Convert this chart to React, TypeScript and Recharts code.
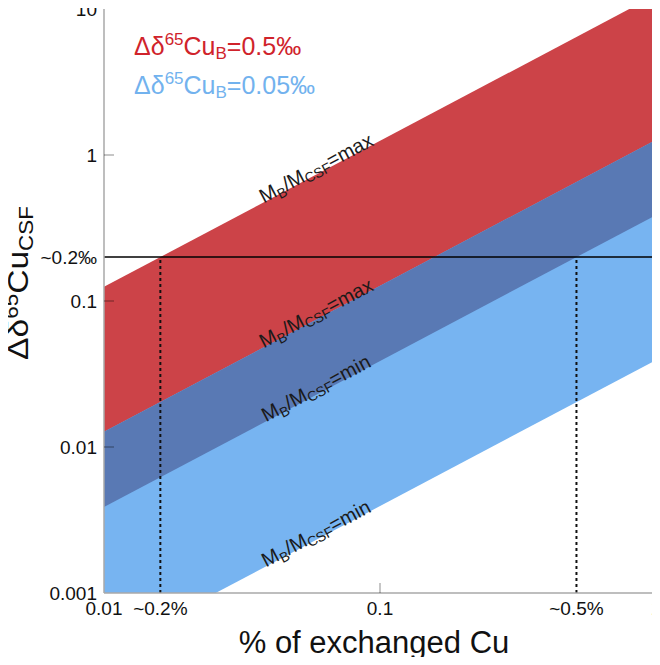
import React from 'react';
import { ComposedChart, Area, XAxis, YAxis, ReferenceLine, ReferenceDot } from 'recharts';

// exchanged Cu fraction at the plot edges
const xValues = [0.01, 1];
// band boundaries (Δδ65Cu_CSF) read at x = 0.01 and x = 1
const redUpper = [0.125, 12.5]; // Δδ65CuB=0.5‰, MB/MCSF=max
const redLower = [0.00388, 0.388]; // Δδ65CuB=0.5‰, MB/MCSF=min
const blueUpper = [0.0127, 1.27]; // Δδ65CuB=0.05‰, MB/MCSF=max
const blueLower = [0.000394, 0.0394]; // Δδ65CuB=0.05‰, MB/MCSF=min

const xTicks = [0.01, 0.016, 0.1, 0.515, 1];
const xTickLabels = ['0.01', '~0.2%', '0.1', '~0.5%', '1'];
const yTicks = [0.001, 0.01, 0.1, 0.2, 1, 10];
const yTickLabels = ['0.001', '0.01', '0.1', '~0.2‰', '1', '10'];
const xMajor = [0.1];
const yMajor = [0.01, 0.1, 1];

const threshold = 0.2;
const crossX = [0.016, 0.515];

const bandLabelX = [0.06, 0.06, 0.06, 0.06];
const bandLabelY = [0.75, 0.0762, 0.0233, 0.00236];
const bandLabelText = ['max', 'max', 'min', 'min'];

const table = xValues.map((x, i) => ({
  x,
  red: [redLower[i], redUpper[i]],
  light: [blueLower[i], blueUpper[i]],
  dark: [redLower[i], blueUpper[i]],
}));

const FONT = '"Liberation Sans", Arial, Helvetica, sans-serif';
const ANGLE = -Math.atan(146 / 276) * 180 / Math.PI;
const TICK_STROKE = 'rgba(0,0,0,0.3)';

const XTick = (props: any) => {
  const { x, y, payload } = props;
  const i = xTicks.indexOf(payload.value);
  return (
    <g>
      {xMajor.includes(payload.value) && (
        <line x1={x} x2={x} y1={y} y2={y - 10} stroke={TICK_STROKE} strokeWidth={1.5} />
      )}
      <text x={x} y={y + 22} textAnchor="middle" fontSize={19} fontFamily={FONT} fill="#111">
        {xTickLabels[i]}
      </text>
    </g>
  );
};

const YTick = (props: any) => {
  const { x, y, payload } = props;
  const i = yTicks.indexOf(payload.value);
  return (
    <g>
      {yMajor.includes(payload.value) && (
        <line x1={x} x2={x + 10} y1={y} y2={y} stroke={TICK_STROKE} strokeWidth={1.5} />
      )}
      <text x={x - 7} y={y} dy="0.36em" textAnchor="end" fontSize={19} fontFamily={FONT} fill="#111">
        {yTickLabels[i]}
      </text>
    </g>
  );
};

const RightTick = (props: any) => {
  const { x, y, payload } = props;
  if (!yMajor.includes(payload.value)) return <g />;
  return <line x1={x} x2={x - 10} y1={y} y2={y} stroke={TICK_STROKE} strokeWidth={1.5} />;
};

const TopTick = (props: any) => {
  const { x, y, payload } = props;
  if (!xMajor.includes(payload.value)) return <g />;
  return <line x1={x} x2={x} y1={y} y2={y + 10} stroke={TICK_STROKE} strokeWidth={1.5} />;
};

const BandLabel = ({ cx, cy, kind }: any) => (
  <text
    x={cx}
    y={cy}
    dy={1}
    textAnchor="middle"
    fontFamily={FONT}
    fontSize={20}
    fill="#1a1a1a"
    transform={`rotate(${ANGLE} ${cx} ${cy})`}
  >
    M<tspan fontSize={14} dy={4}>B</tspan>
    <tspan dy={-4}>/M</tspan>
    <tspan fontSize={14} dy={3}>CSF</tspan>
    <tspan dy={-3}>={kind}</tspan>
  </text>
);

export default function App() {
  return (
    <div style={{ margin: -8, width: 660, height: 665 }}>
      <ComposedChart
        width={660}
        height={665}
        data={table}
        margin={{ top: 9, right: 4, bottom: 0, left: 0 }}
      >
        <Area
          dataKey="red"
          type="linear"
          stroke="none"
          fill="#cc4348"
          fillOpacity={1}
          isAnimationActive={false}
          dot={false}
          activeDot={false}
        />
        <Area
          dataKey="light"
          type="linear"
          stroke="none"
          fill="#77b4f1"
          fillOpacity={1}
          isAnimationActive={false}
          dot={false}
          activeDot={false}
        />
        <Area
          dataKey="dark"
          type="linear"
          stroke="none"
          fill="#5979b4"
          fillOpacity={1}
          isAnimationActive={false}
          dot={false}
          activeDot={false}
        />
        <XAxis
          dataKey="x"
          type="number"
          scale="log"
          domain={[0.01, 1]}
          allowDataOverflow
          ticks={xTicks}
          interval={0}
          tick={<XTick />}
          tickLine={false}
          tickSize={0}
          tickMargin={0}
          height={72}
          axisLine={{ stroke: '#a8a8a8', strokeWidth: 1.5 }}
        />
        <XAxis
          xAxisId="top"
          dataKey="x"
          orientation="top"
          type="number"
          scale="log"
          domain={[0.01, 1]}
          allowDataOverflow
          ticks={xTicks}
          interval={0}
          tick={<TopTick />}
          tickLine={false}
          tickSize={0}
          tickMargin={0}
          height={0}
          axisLine={{ stroke: '#a8a8a8', strokeWidth: 1.5 }}
        />
        <YAxis
          type="number"
          scale="log"
          domain={[0.001, 10]}
          allowDataOverflow
          ticks={yTicks}
          interval={0}
          tick={<YTick />}
          tickLine={false}
          tickSize={0}
          tickMargin={0}
          width={104}
          axisLine={{ stroke: '#a8a8a8', strokeWidth: 1.5 }}
        />
        <YAxis
          yAxisId="right"
          orientation="right"
          type="number"
          scale="log"
          domain={[0.001, 10]}
          allowDataOverflow
          ticks={yTicks}
          interval={0}
          tick={<RightTick />}
          tickLine={false}
          tickSize={0}
          tickMargin={0}
          width={0}
          axisLine={{ stroke: '#a8a8a8', strokeWidth: 1.5 }}
        />
        <ReferenceLine y={threshold} stroke="#000" strokeWidth={1.6} />
        {crossX.map((cx) => (
          <ReferenceLine
            key={cx}
            segment={[{ x: cx, y: 0.001 }, { x: cx, y: threshold }]}
            stroke="#111"
            strokeWidth={2}
            strokeDasharray="3 3"
          />
        ))}
        {bandLabelX.map((bx, i) => (
          <ReferenceDot
            key={i}
            x={bx}
            y={bandLabelY[i]}
            r={1}
            shape={(p: any) => <BandLabel cx={p.cx} cy={p.cy} kind={bandLabelText[i]} />}
          />
        ))}
        <text x={134} y={55} fontFamily={FONT} fontSize={25} fill="#d0232b">
          Δδ<tspan fontSize={17} dy={-10}>65</tspan>
          <tspan dy={10}>Cu</tspan>
          <tspan fontSize={17} dy={4}>B</tspan>
          <tspan dy={-4}>=0.5‰</tspan>
        </text>
        <text x={134} y={94} fontFamily={FONT} fontSize={25} fill="#72b2ee">
          Δδ<tspan fontSize={17} dy={-10}>65</tspan>
          <tspan dy={10}>Cu</tspan>
          <tspan fontSize={17} dy={4}>B</tspan>
          <tspan dy={-4}>=0.05‰</tspan>
        </text>
        <text
          x={0}
          y={0}
          textAnchor="middle"
          fontFamily={FONT}
          fontSize={30}
          fill="#111"
          transform="translate(28 283) rotate(-90) scale(1.12 1)"
        >
          Δδ<tspan fontSize={20} dy={-10}>65</tspan>
          <tspan dy={10}>Cu</tspan>
          <tspan fontSize={20} dy={5}>CSF</tspan>
        </text>
        <text x={374} y={653} textAnchor="middle" fontFamily={FONT} fontSize={31} fill="#111">
          % of exchanged Cu
        </text>
      </ComposedChart>
    </div>
  );
}
